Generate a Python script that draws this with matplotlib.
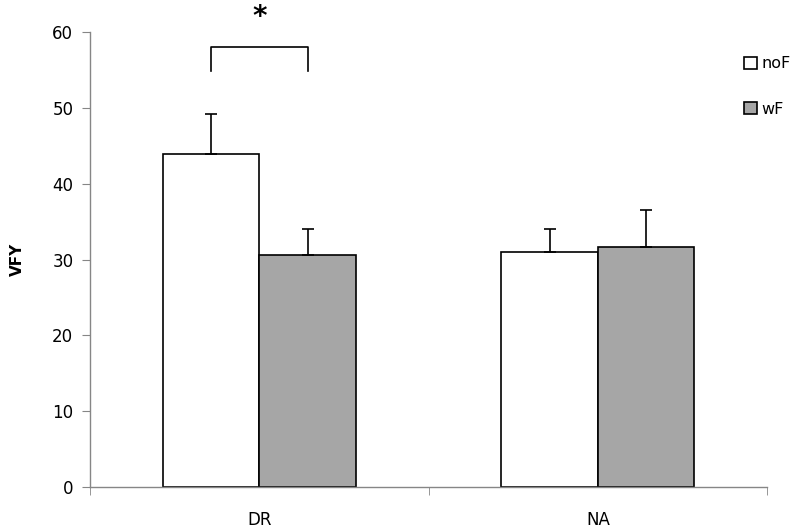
import matplotlib
matplotlib.use("Agg")
import matplotlib.pyplot as plt
import numpy as np

# 数据
groups = ["DR", "NA"]
series_names = ["noF", "wF"]
nof_mean = [43.9, 31.0]
nof_err = [5.3, 3.0]
wf_mean = [30.6, 31.7]
wf_err = [3.4, 4.8]
sig_pair = (0, 58.0, 54.9)  # group index, bracket top, leg bottom

plt.rcParams['font.family'] = ['DejaVu Sans']

fig = plt.figure(figsize=(8, 5.27), dpi=100)
ax = fig.add_axes([0.1125, 0.076, 0.8465, 0.863])

x = np.arange(len(groups))
w = 0.285
axis_gray = '#868686'

ax.bar(x - w / 2, nof_mean, w, color='white', edgecolor='black', linewidth=1.2,
       label=series_names[0], zorder=2)
ax.bar(x + w / 2, wf_mean, w, color='#a6a6a6', edgecolor='black', linewidth=1.2,
       label=series_names[1], zorder=2)

# 只画向上的误差棒
ax.errorbar(x - w / 2, nof_mean, yerr=[np.zeros(2), nof_err], fmt='none',
            ecolor='black', elinewidth=1.2, capsize=4.5, capthick=1.2, zorder=3)
ax.errorbar(x + w / 2, wf_mean, yerr=[np.zeros(2), wf_err], fmt='none',
            ecolor='black', elinewidth=1.2, capsize=4.5, capthick=1.2, zorder=3)

# 显著性标记
gi, top, bot = sig_pair
x1, x2 = gi - w / 2, gi + w / 2
ax.plot([x1, x1, x2, x2], [bot, top, top, bot], color='black', lw=1.2, clip_on=False)
ax.text(gi, 62.0, '*', ha='center', va='center', fontsize=20, fontweight='bold',
        clip_on=False)

ax.set_xlim(-0.5, 1.5)
ax.set_ylim(0, 60)
ax.set_yticks(range(0, 61, 10))
ax.set_xticks(x)
ax.set_xticklabels(groups, fontsize=12)
ax.set_xticks([-0.5, 0.5, 1.5], minor=True)
ax.tick_params(axis='x', which='major', length=0, pad=17)
ax.tick_params(axis='x', which='minor', length=6, color=axis_gray, direction='out')
ax.tick_params(axis='y', length=6, color=axis_gray, labelsize=12, pad=6)

for s in ['top', 'right']:
    ax.spines[s].set_visible(False)
for s in ['left', 'bottom']:
    ax.spines[s].set_color(axis_gray)
    ax.spines[s].set_linewidth(1.0)

ax.set_ylabel('VFY', fontsize=11, fontweight='bold', labelpad=20)

fig.legend(loc='upper left', bbox_to_anchor=(0.922, 0.905), frameon=False,
           fontsize=11.5, handlelength=0.8, handleheight=0.8, handletextpad=0.3,
           labelspacing=1.9, borderaxespad=0)

fig.savefig('out.png', dpi=100)
